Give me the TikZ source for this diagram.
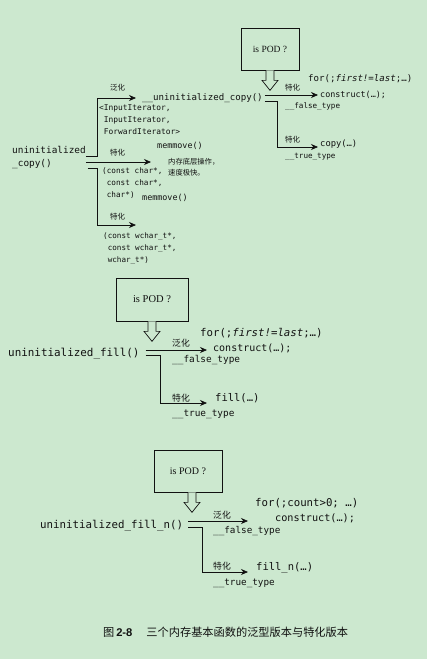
\documentclass[tikz,border=0pt]{standalone}
\usepackage{fontspec}
\setmainfont{Liberation Serif}
\newfontfamily\codefont{DejaVu Sans Mono}
\newfontfamily\cjkfont{Noto Sans CJK SC}
\newfontfamily\capfont{Liberation Sans}
\usepackage{tikz}
\usetikzlibrary{
  arrows.meta,
  positioning,
  calc
}
\definecolor{podBg}{HTML}{CCE8CF}
\definecolor{podInk}{HTML}{111111}
\tikzset{
  txt/.style={inner sep=0pt, anchor=west, align=left, text=podInk},
  code/.style={txt, font=\codefont\fontsize{#1}{12}\selectfont},
  cjk/.style={txt, font=\cjkfont\fontsize{#1}{11}\selectfont},
  podbox/.style={draw=podInk, line width=0.7pt, inner sep=0pt, text=podInk},
  wire/.style={draw=podInk, line width=0.7pt},
  arr/.style={wire, -{Stealth[length=7pt, width=6pt]}},
  podarrow/.pic={
    \draw[wire, fill=podBg] (-4,0) -- (-4,10) -- (-8,10) -- (0,20) -- (8,10) -- (4,10) -- (4,0);
  }
}

\begin{document}
\begin{tikzpicture}[x=1pt, y=-1pt]
  \fill[podBg] (0,0) rectangle (427,659);

  % --- uninitialized_copy ---
  \node[code=9.4] (ucopy) at (12,158) {uninitialized\\[1pt]\_copy()};
  \node[cjk=7.5] (gen1) at (110,88) {泛化};
  \node[code=9.1] (uicopy) at (142,98) {\_\_uninitialized\_copy()};
  \node[code=7.9] (tmpl) at (99,120) {<InputIterator,\\\ InputIterator,\\\ ForwardIterator>};
  \node[cjk=7.5] (spec1) at (110,153) {特化};
  \node[code=8.4] (mm1) at (157,146) {memmove()};
  \node[cjk=7.3] (lowlvl) at (168,167) {内存底层操作，\\速度极快。};
  \node[code=7.7] (cchar) at (102,183) {(const char*,\\\ const char*,\\\ char*)};
  \node[code=8.4] (mm2) at (142,198) {memmove()};
  \node[cjk=7.5] (spec2) at (110,217) {特化};
  \node[code=7.6] (wchar) at (103,249) {(const wchar\_t*,\\\ const wchar\_t*,\\\ wchar\_t*)};

  \coordinate (cpGen) at (136,98);
  \coordinate (cpMid) at (151,162);
  \coordinate (cpLow) at (136,225);
  \draw[arr] ($(ucopy.east)+(0,-2)$) -| (97,98) -- (cpGen);
  \draw[arr] ($(ucopy.east)+(0,4)$) -- (cpMid);
  \draw[arr] ($(ucopy.east)+(2,10)$) -| (97,225) -- (cpLow);

  \node[podbox, minimum width=58pt, minimum height=42pt, font=\fontsize{9.5}{11}\selectfont] (pod1) at (270,49) {is POD ?};
  \pic at (pod1.south) {podarrow};
  \node[cjk=7.5] (spec3) at (285,88) {特化};
  \node[code=9.1] (for1) at (308,79) {for(;\textit{first!=last};…)};
  \node[code=8.4] (cons1) at (320,95) {construct(…);};
  \node[code=7.6] (false1) at (285,106) {\_\_false\_type};
  \node[cjk=7.5] (spec4) at (285,140) {特化};
  \node[code=8.8] (copy1) at (320,144) {copy(…)};
  \node[code=7.6] (true1) at (285,157) {\_\_true\_type};

  \coordinate (cpF) at (318,95);
  \coordinate (cpT) at (318,147);
  \draw[arr] ($(uicopy.east)+(2,-3)$) -- (cpF);
  \draw[arr] ($(uicopy.east)+(2,3)$) -| (277,147) -- (cpT);

  % --- uninitialized_fill ---
  \node[podbox, minimum width=72pt, minimum height=43pt, font=\fontsize{10.5}{12}\selectfont] (pod2) at (152,299.5) {is POD ?};
  \pic at (pod2.south) {podarrow};
  \node[code=10.9] (ufill) at (8,354) {uninitialized\_fill()};
  \node[cjk=8.8] (gen2) at (172,343) {泛化};
  \node[code=10.7] (for2) at (200,333) {for(;\textit{first!=last};…)};
  \node[code=10] (cons2) at (213,348) {construct(…);};
  \node[code=9.4] (false2) at (172,360) {\_\_false\_type};
  \node[cjk=8.8] (spec5) at (172,398) {特化};
  \node[code=10.5] (ffill) at (215,398) {fill(…)};
  \node[code=9.4] (true2) at (172,414) {\_\_true\_type};

  \coordinate (fF) at (207,350);
  \coordinate (fT) at (207,403);
  \draw[arr] ($(ufill.east)+(6,-4)$) -- (fF);
  \draw[arr] ($(ufill.east)+(6,1)$) -| (160,403) -- (fT);

  % --- uninitialized_fill_n ---
  \node[podbox, minimum width=68pt, minimum height=42pt, font=\fontsize{10}{12}\selectfont] (pod3) at (188,471) {is POD ?};
  \pic at ($(pod3.south)+(4,0)$) {podarrow};
  \node[code=10.8] (ufilln) at (40,526) {uninitialized\_fill\_n()};
  \node[cjk=8.8] (gen3) at (213,515) {泛化};
  \node[code=10.7] (for3) at (255,503) {for(;count>0; …)};
  \node[code=10.2] (cons3) at (275,518) {construct(…);};
  \node[code=9.3] (false3) at (213,531) {\_\_false\_type};
  \node[cjk=8.8] (spec6) at (213,566) {特化};
  \node[code=10.5] (ffilln) at (256,568) {fill\_n(…)};
  \node[code=9.3] (true3) at (213,583) {\_\_true\_type};

  \coordinate (nF) at (248,521);
  \coordinate (nT) at (248,572);
  \draw[arr] ($(ufilln.east)+(5,-5)$) -- (nF);
  \draw[arr] ($(ufilln.east)+(5,1)$) -| (202,572) -- (nT);

  % caption
  \node[txt, font=\fontsize{11.2}{13}\selectfont] (cap) at (103,632)
    {{\cjkfont 图}\,{\capfont\bfseries 2-8}\hspace{14pt}{\cjkfont 三个内存基本函数的泛型版本与特化版本}};
\end{tikzpicture}
\end{document}
